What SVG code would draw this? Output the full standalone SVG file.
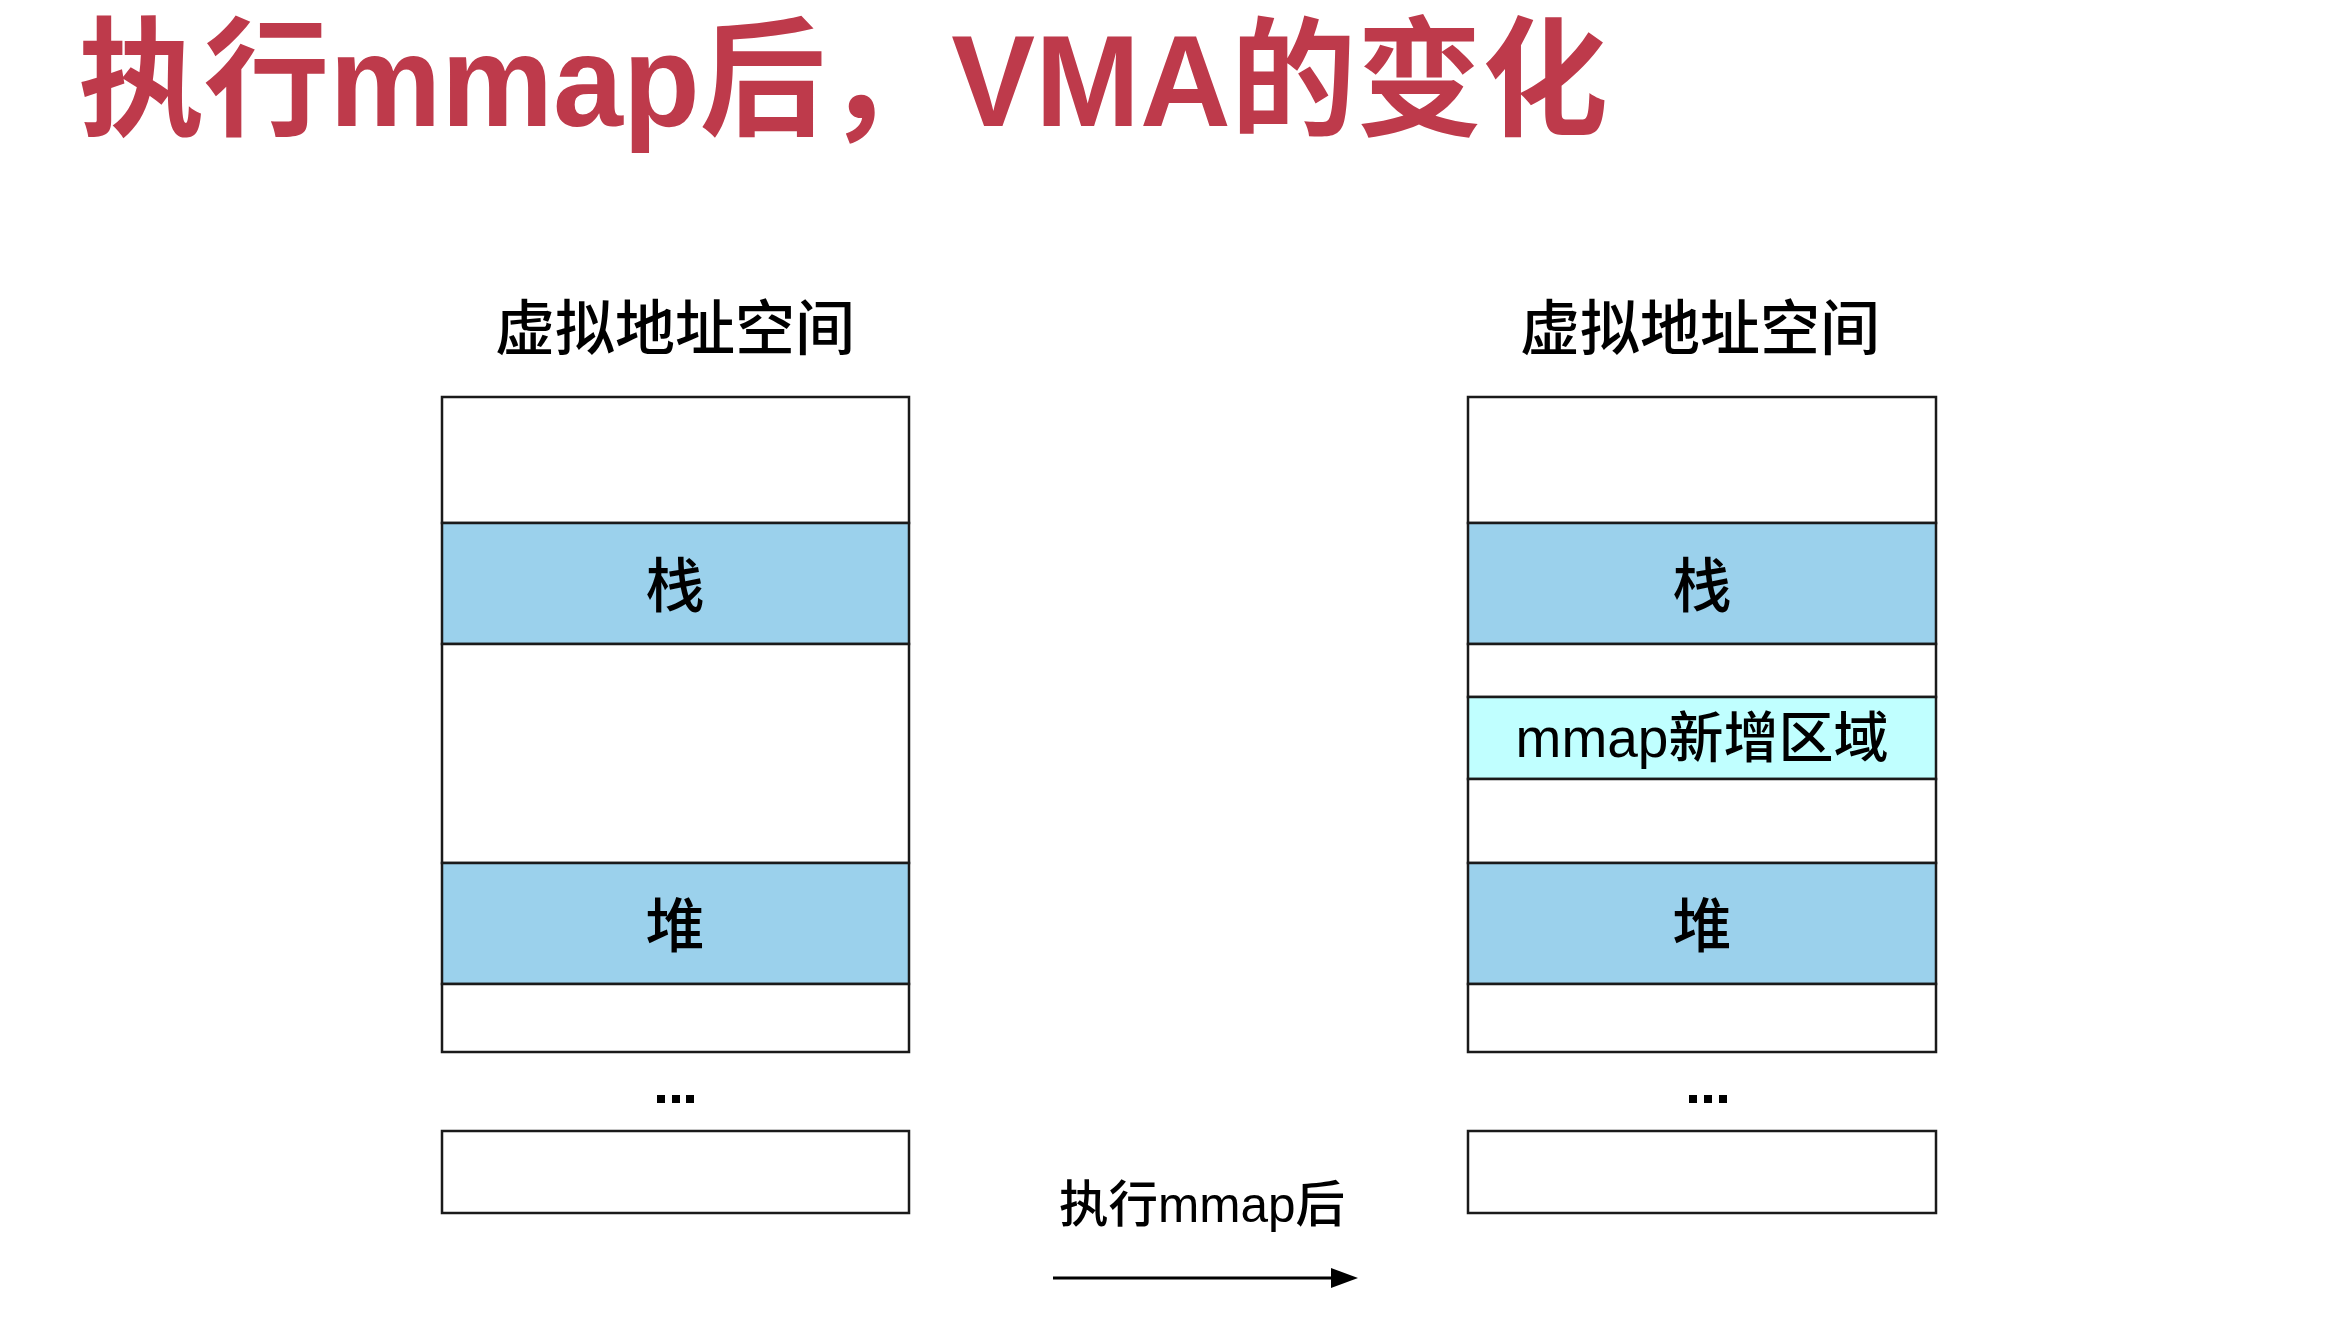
<svg xmlns="http://www.w3.org/2000/svg" width="2334" height="1325" viewBox="0 0 2334 1325">
<style>
.t{font-family:"Liberation Sans","Noto Sans CJK SC",sans-serif;fill:#000;text-anchor:middle;font-weight:500}
.title{font-family:"Liberation Sans","Noto Sans CJK SC",sans-serif;font-weight:bold;fill:#BE3A4B;font-size:129px}
.box{stroke:#1a1a1a;stroke-width:2.5;fill:#fff}
.blue{fill:#9BD1EC}
.cyan{fill:#C0FFFF}
.dot{fill:#000}
</style>
<rect width="2334" height="1325" fill="#fff"/>
<text class="title" x="78" y="126" textLength="1530" lengthAdjust="spacingAndGlyphs">执行mmap后，VMA的变化</text>

<g id="left-column">
<text class="t" x="675" y="350" font-size="60">虚拟地址空间</text>
<g id="l-top"><rect class="box" x="442" y="397" width="467" height="126"/></g>
<g id="l-stack"><rect class="box blue" x="442" y="523" width="467" height="121"/><text class="t" x="675" y="607" font-size="59">栈</text></g>
<g id="l-gap"><rect class="box" x="442" y="644" width="467" height="219"/></g>
<g id="l-heap"><rect class="box blue" x="442" y="863" width="467" height="121"/><text class="t" x="675" y="947" font-size="59">堆</text></g>
<g id="l-bottom"><rect class="box" x="442" y="984" width="467" height="68"/></g>
<g id="l-dots"><rect class="dot" x="657" y="1095" width="8" height="8"/><rect class="dot" x="672" y="1095" width="8" height="8"/><rect class="dot" x="686" y="1095" width="8" height="8"/></g>
<g id="l-last"><rect class="box" x="442" y="1131" width="467" height="82"/></g>
</g>

<g id="right-column">
<text class="t" x="1700" y="350" font-size="60">虚拟地址空间</text>
<g id="r-top"><rect class="box" x="1468" y="397" width="468" height="126"/></g>
<g id="r-stack"><rect class="box blue" x="1468" y="523" width="468" height="121"/><text class="t" x="1702" y="607" font-size="59">栈</text></g>
<g id="r-gap1"><rect class="box" x="1468" y="644" width="468" height="53"/></g>
<g id="r-mmap"><rect class="box cyan" x="1468" y="697" width="468" height="82"/><text class="t" x="1702" y="757" font-size="55">mmap新增区域</text></g>
<g id="r-gap2"><rect class="box" x="1468" y="779" width="468" height="84"/></g>
<g id="r-heap"><rect class="box blue" x="1468" y="863" width="468" height="121"/><text class="t" x="1702" y="947" font-size="59">堆</text></g>
<g id="r-bottom"><rect class="box" x="1468" y="984" width="468" height="68"/></g>
<g id="r-dots"><rect class="dot" x="1689" y="1095" width="8" height="8"/><rect class="dot" x="1704" y="1095" width="8" height="8"/><rect class="dot" x="1719" y="1095" width="8" height="8"/></g>
<g id="r-last"><rect class="box" x="1468" y="1131" width="468" height="82"/></g>
</g>

<g id="connectors">
<text class="t" x="1202" y="1222" font-size="49.5">执行mmap后</text>
<line x1="1053" y1="1278" x2="1332" y2="1278" stroke="#000" stroke-width="3"/>
<path d="M1331,1268 L1358,1278 L1331,1288 Z" fill="#000"/>
</g>
</svg>
